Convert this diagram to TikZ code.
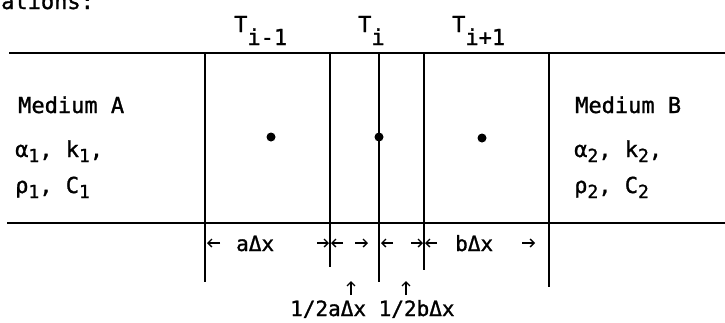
\documentclass[tikz,border=0pt]{standalone}
\usepackage{fontspec}
\newfontfamily\monofnt[FakeBold=1.2]{DejaVu Sans Mono}
\usetikzlibrary{arrows.meta}
\newcommand\mysub[1]{\raisebox{-5pt}{\fontsize{18}{20}\selectfont #1}}
\newcommand\tsub[1]{\raisebox{-13pt}{#1}}
\begin{document}
\begin{tikzpicture}[x=1pt,y=-1pt,
  wall/.style={line width=2.3pt},
  band/.style={line width=2.8pt},
  lbl/.style={font=\monofnt\fontsize{22}{26}\selectfont, inner sep=0pt, anchor=base west},
  dimlbl/.style={font=\monofnt\fontsize{21}{24}\selectfont, inner sep=0pt, anchor=base west},
  dimarrow/.style={line width=1.3pt, -{Straight Barb[length=4pt,width=8pt]}},
  nodedot/.style={circle, fill=black, inner sep=0pt, minimum size=9pt}]
\clip (0,0) rectangle (725,322);
\useasboundingbox (0,0) rectangle (725,322);
% partial text at the top
\node[lbl] (cut) at (1,9) {ations:};
% band boundaries
\coordinate (tl) at (9,53);   \coordinate (tr) at (725,53);
\coordinate (bl) at (7,223);  \coordinate (br) at (725,223);
\draw[band] (tl) -- (tr);
\draw[band] (bl) -- (br);
% vertical lines
\coordinate (w1t) at (205,53); \coordinate (w1b) at (205,282);
\coordinate (w2t) at (330,53); \coordinate (w2b) at (330,267);
\coordinate (w3t) at (379,53); \coordinate (w3b) at (379,282);
\coordinate (w4t) at (424,53); \coordinate (w4b) at (424,270);
\coordinate (w5t) at (549,53); \coordinate (w5b) at (549,287);
\draw[wall] (w1t) -- (w1b);
\draw[wall] (w2t) -- (w2b);
\draw[wall] (w3t) -- (w3b);
\draw[wall] (w4t) -- (w4b);
\draw[wall] (w5t) -- (w5b);
% nodes
\node[nodedot] (p1) at (271,137) {};
\node[nodedot] (p2) at (379,137) {};
\node[nodedot] (p3) at (482,138) {};
% T labels
\node[lbl] (T1) at (234,32) {T\tsub{i-1}};
\node[lbl] (T2) at (358,32) {T\tsub{i}};
\node[lbl] (T3) at (452,32) {T\tsub{i+1}};
% media
\node[lbl] (mA) at (18,113) {Medium A};
\node[lbl] (pA1) at (15,157) {α\mysub{1}, k\mysub{1},};
\node[lbl] (pA2) at (15,193) {ρ\mysub{1}, C\mysub{1}};
\node[lbl] (mB) at (575,113) {Medium B};
\node[lbl] (pB1) at (574,157) {α\mysub{2}, k\mysub{2},};
\node[lbl] (pB2) at (574,193) {ρ\mysub{2}, C\mysub{2}};
% dimension row
\coordinate (d1s) at (220,243); \coordinate (d1e) at (207,243);
\coordinate (d2s) at (317,243); \coordinate (d2e) at (329,243);
\coordinate (d3s) at (343,243); \coordinate (d3e) at (331,243);
\coordinate (d4s) at (355,243); \coordinate (d4e) at (368,243);
\coordinate (d5s) at (393,243); \coordinate (d5e) at (381,243);
\coordinate (d6s) at (411,243); \coordinate (d6e) at (423,243);
\coordinate (d7s) at (437,243); \coordinate (d7e) at (425,243);
\coordinate (d8s) at (522,243); \coordinate (d8e) at (535,243);
\foreach \i in {1,...,8} {\draw[dimarrow] (d\i s) -- (d\i e);}
\node[dimlbl] (la) at (236,251) {aΔx};
\node[dimlbl] (lb) at (455,251) {bΔx};
% half-cell labels
\node[dimlbl] (half) at (290,316) {1/2aΔx 1/2bΔx};
\coordinate (u1s) at (351,295); \coordinate (u1e) at (351,281);
\coordinate (u2s) at (406,295); \coordinate (u2e) at (406,281);
\draw[dimarrow] (u1s) -- (u1e);
\draw[dimarrow] (u2s) -- (u2e);
\end{tikzpicture}
\end{document}
